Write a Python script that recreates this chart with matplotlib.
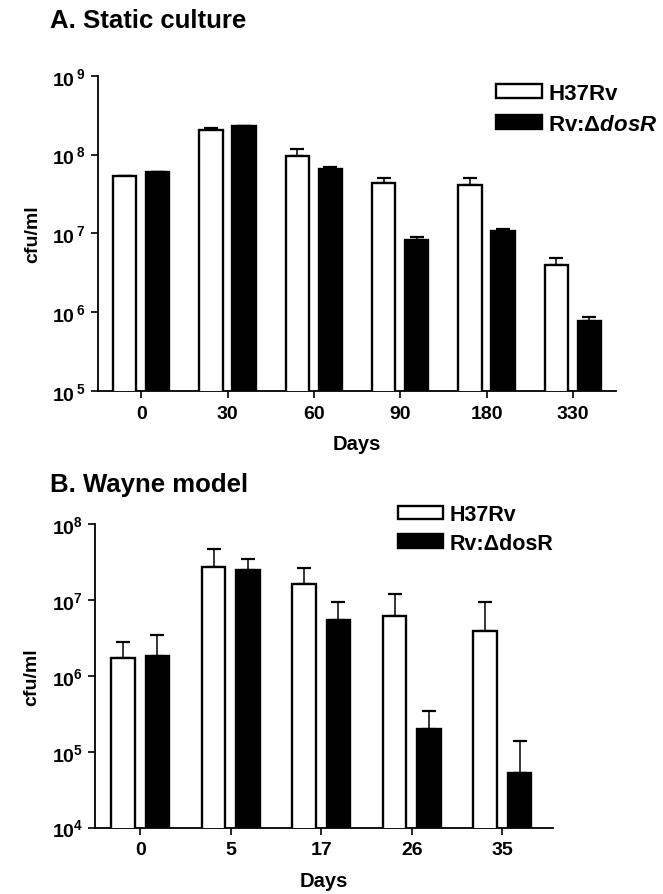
import numpy as np
import matplotlib
matplotlib.use("Agg")
import matplotlib.pyplot as plt
from matplotlib.ticker import FuncFormatter, NullLocator, LogLocator

plt.rcParams['font.family'] = ['Liberation Sans', 'DejaVu Sans']
plt.rcParams['font.weight'] = 'bold'
plt.rcParams['mathtext.fontset'] = 'custom'
plt.rcParams['mathtext.rm'] = 'Liberation Sans:bold'
plt.rcParams['mathtext.bf'] = 'Liberation Sans:bold'
plt.rcParams['mathtext.it'] = 'Liberation Sans:bold:italic'

# Panel A: static culture
days_a = ['0', '30', '60', '90', '180', '330']
wt_a = [5.3e7, 2.05e8, 9.5e7, 4.4e7, 4.1e7, 4.0e6]
wt_a_top = [5.3e7, 2.15e8, 1.17e8, 5.0e7, 5.0e7, 4.8e6]
mut_a = [6.0e7, 2.3e8, 6.6e7, 8.2e6, 1.07e7, 7.7e5]
mut_a_top = [6.0e7, 2.3e8, 7.0e7, 9.1e6, 1.15e7, 8.6e5]

# Panel B: Wayne model
days_b = ['0', '5', '17', '26', '35']
wt_b = [1.73e6, 2.75e7, 1.6e7, 6.1e6, 3.9e6]
wt_b_top = [2.8e6, 4.7e7, 2.65e7, 1.18e7, 9.4e6]
mut_b = [1.81e6, 2.45e7, 5.4e6, 2.0e5, 5.3e4]
mut_b_top = [3.4e6, 3.5e7, 9.4e6, 3.45e5, 1.4e5]

W, H = 663, 895
fig = plt.figure(figsize=(W / 100, H / 100), dpi=100)


def panel(rect, days, wt, wt_top, mut, mut_top, ylim, width, off, xmax, gap):
    ax = fig.add_axes(rect)
    x = np.arange(len(days))
    wt = np.array(wt); mut = np.array(mut)
    b1 = ax.bar(x - off, wt, width, color='white', edgecolor='black', linewidth=1.7, zorder=3)
    b2 = ax.bar(x + off, mut, width, color='black', edgecolor='black', linewidth=1.7, zorder=3)
    ax.errorbar(x - off, wt, yerr=[np.zeros(len(x)), np.array(wt_top) - wt], fmt='none',
                ecolor='black', elinewidth=1.1, capsize=5, capthick=1.6, zorder=2)
    ax.errorbar(x + off, mut, yerr=[np.zeros(len(x)), np.array(mut_top) - mut], fmt='none',
                ecolor='black', elinewidth=1.1, capsize=5, capthick=1.6, zorder=2)
    ax.set_yscale('log')
    ax.set_ylim(*ylim)
    ax.set_xlim(-0.5, xmax)
    ax.yaxis.set_major_locator(LogLocator(base=10))
    ax.yaxis.set_minor_locator(NullLocator())
    ax.yaxis.set_major_formatter(FuncFormatter(
        lambda v, p: r'$\mathbf{10%s^{%d}}$' % (gap, round(np.log10(v)))))
    ax.set_xticks(x)
    ax.set_xticklabels(days)
    ax.tick_params(axis='both', labelsize=14, length=5, width=1.2, direction='out')
    ax.tick_params(axis='x', pad=5)
    for s in ['top', 'right']:
        ax.spines[s].set_visible(False)
    for s in ['left', 'bottom']:
        ax.spines[s].set_linewidth(1.3)
    ax.set_xlabel('Days', fontsize=14.5, fontweight='bold', labelpad=9)
    ax.set_ylabel('cfu/ml', fontsize=14, fontweight='bold', labelpad=8)
    return ax, b1, b2


ax1, a1, a2 = panel([98 / W, 1 - 392 / H, 518 / W, 315.3 / H], days_a, wt_a, wt_a_top,
                    mut_a, mut_a_top, (1e5, 1e9), 0.27, 0.19, 5.5, r'\,')
ax2, c1, c2 = panel([95 / W, 1 - 828.6 / H, 458 / W, 303.6 / H], days_b, wt_b, wt_b_top,
                    mut_b, mut_b_top, (1e4, 1e8), 0.26, 0.19, 4.56, '')

fig.text(50 / W, 1 - 28 / H, 'A. Static culture', fontsize=18.5, fontweight='bold', va='baseline')
fig.text(50 / W, 1 - 492 / H, 'B. Wayne model', fontsize=18.5, fontweight='bold', va='baseline')

ax1.legend([a1, a2], ['H37Rv', r'Rv:Δ$\mathit{dosR}$'], loc='upper left',
           bbox_to_anchor=(496 / W, 1 - 84 / H), bbox_transform=fig.transFigure,
           frameon=False, fontsize=16, handlelength=2.05, handleheight=0.6,
           handletextpad=0.3, borderpad=0, borderaxespad=0, labelspacing=0.45)
ax2.legend([c1, c2], ['H37Rv', 'Rv:ΔdosR'], loc='upper left',
           bbox_to_anchor=(398 / W, 1 - 505 / H), bbox_transform=fig.transFigure,
           frameon=False, fontsize=15.5, handlelength=2.1, handleheight=0.6,
           handletextpad=0.3, borderpad=0, borderaxespad=0, labelspacing=0.35)

fig.savefig('out.png', dpi=100)
